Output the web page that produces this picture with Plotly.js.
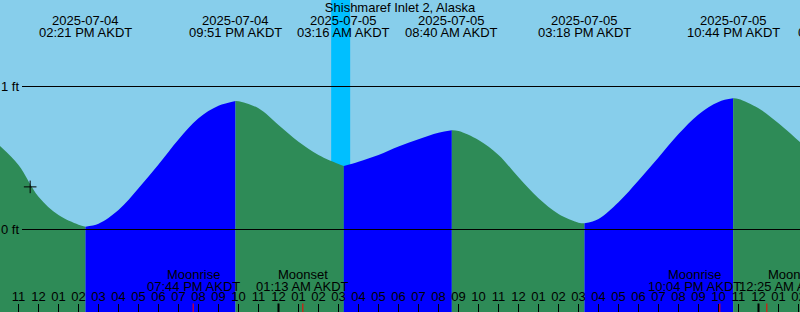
<!DOCTYPE html>
<html>
<head>
<meta charset="utf-8">
<script src="https://cdn.plot.ly/plotly-3.0.1.min.js"></script>
<style>html,body{margin:0;padding:0;background:#87CEEB;}#chart{width:800px;height:312px;}</style>
</head>
<body>
<div id="chart"></div>
<script>
// ---- data ----
const stationTitle = 'Shishmaref Inlet 2, Alaska';

const sampleTimes = [
  '2025-07-04 10:04:30', '2025-07-04 11:00', '2025-07-04 12:00', '2025-07-04 13:00',
  '2025-07-04 14:00', '2025-07-04 15:00', '2025-07-04 16:00', '2025-07-04 17:00',
  '2025-07-04 18:00', '2025-07-04 19:00', '2025-07-04 20:00', '2025-07-04 21:00',
  '2025-07-04 22:00', '2025-07-04 23:00', '2025-07-05 00:00', '2025-07-05 01:00',
  '2025-07-05 02:00', '2025-07-05 03:00', '2025-07-05 04:00', '2025-07-05 05:00',
  '2025-07-05 06:00', '2025-07-05 07:00', '2025-07-05 08:00', '2025-07-05 09:00',
  '2025-07-05 10:00', '2025-07-05 11:00', '2025-07-05 12:00', '2025-07-05 13:00',
  '2025-07-05 14:00', '2025-07-05 15:00', '2025-07-05 16:00', '2025-07-05 17:00',
  '2025-07-05 18:00', '2025-07-05 19:00', '2025-07-05 20:00', '2025-07-05 21:00',
  '2025-07-05 22:00', '2025-07-05 23:00', '2025-07-06 00:00', '2025-07-06 01:00',
  '2025-07-06 02:00', '2025-07-06 02:04:30'
];
const sampleHeights = [
  0.584, 0.451, 0.229, 0.101,
  0.034, 0.040, 0.136, 0.288,
  0.455, 0.630, 0.778, 0.865,
  0.897, 0.848, 0.731, 0.614,
  0.521, 0.458, 0.474, 0.521,
  0.580, 0.631, 0.677, 0.689,
  0.626, 0.521, 0.365, 0.218,
  0.108, 0.048, 0.073, 0.190,
  0.342, 0.503, 0.667, 0.805,
  0.892, 0.913, 0.848, 0.743,
  0.621, 0.612
];

const extremeTimes   = ['2025-07-04 14:21', '2025-07-04 21:51', '2025-07-05 03:16', '2025-07-05 08:40', '2025-07-05 15:18', '2025-07-05 22:44'];
const extremeHeights = [0.020, 0.899, 0.444, 0.694, 0.043, 0.917];
const extremeDates   = ['2025-07-04', '2025-07-04', '2025-07-05', '2025-07-05', '2025-07-05', '2025-07-05'];
const extremeClock   = ['02:21 PM AKDT', '09:51 PM AKDT', '03:16 AM AKDT', '08:40 AM AKDT', '03:18 PM AKDT', '10:44 PM AKDT'];
const nextEventClock = '04:10 AM AKDT';

const moonTimes  = ['2025-07-04 19:44', '2025-07-05 01:13', '2025-07-05 22:04', '2025-07-06 00:25'];
const moonNames  = ['Moonrise', 'Moonset', 'Moonrise', 'Moonset'];
const moonClock  = ['07:44 PM AKDT', '01:13 AM AKDT', '10:04 PM AKDT', '12:25 AM AKDT'];

const midnightTimes = ['2025-07-05 00:00', '2025-07-06 00:00'];
const nightStart = '2025-07-05 02:38';
const nightEnd   = '2025-07-05 03:35';

const nowTime = '2025-07-04 11:35';
const nowHeight = 0.298;

const levelValues = [0, 1];
const levelLabels = ['0 ft', '1 ft'];

// ---- layout constants ----
const X_RANGE = ['2025-07-04 10:04:30', '2025-07-06 02:04:30'];
const Y_RANGE = [-0.5769, 1.6049];
const FONT = '"Liberation Sans", Arial, sans-serif';
const SKY = '#87CEEB', NIGHT = '#00BFFF', FLOOD = '#0000FF', EBB = '#2E8B57';

// ---- build segments between extremes ----
const pts = sampleTimes.map((t, i) => ({t: t, h: sampleHeights[i], ext: false}))
  .concat(extremeTimes.map((t, i) => ({t: t, h: extremeHeights[i], ext: true})));
const tms = s => new Date(s.replace(' ', 'T')).getTime();
pts.sort((a, b) => tms(a.t) - tms(b.t));

const segments = [];
let cur = [];
pts.forEach(p => {
  cur.push(p);
  if (p.ext) { segments.push(cur); cur = [p]; }
});
if (cur.length > 1) segments.push(cur);

const traces = [];
segments.forEach(seg => {
  const xs = seg.map(p => p.t), ys = seg.map(p => p.h);
  const rising = ys[ys.length - 1] > ys[0];
  traces.push({
    type: 'scatter', mode: 'lines', x: [xs[0], xs[xs.length - 1]], y: [Y_RANGE[0], Y_RANGE[0]],
    line: {width: 0}, hoverinfo: 'skip', showlegend: false
  });
  traces.push({
    type: 'scatter', mode: 'lines', x: xs, y: ys, fill: 'tonexty',
    fillcolor: rising ? FLOOD : EBB,
    line: {width: 0, shape: 'spline', smoothing: 1}, hoverinfo: 'skip', showlegend: false
  });
});

traces.push({
  type: 'scatter', mode: 'markers', x: [nowTime], y: [nowHeight],
  marker: {symbol: 'cross-thin-open', size: 9, color: '#000', line: {width: 1, color: '#000'}},
  hoverinfo: 'skip', showlegend: false
});

// ---- shapes ----
const shapes = [];
shapes.push({type: 'rect', layer: 'below', xref: 'x', yref: 'paper', x0: nightStart, x1: nightEnd, y0: 0, y1: 1,
  fillcolor: NIGHT, line: {width: 0}});
levelValues.forEach(v => shapes.push({type: 'line', layer: 'above', xref: 'paper', yref: 'y',
  x0: 22 / 800, x1: 1, y0: v, y1: v, line: {color: '#000', width: 1}}));
midnightTimes.forEach(t => shapes.push({type: 'line', layer: 'above', xref: 'x', yref: 'paper',
  x0: t, x1: t, y0: 0, y1: 8.5 / 312, line: {color: '#000', width: 2}}));
moonTimes.forEach(t => shapes.push({type: 'line', layer: 'above', xref: 'x', yref: 'paper',
  x0: t, x1: t, y0: 0, y1: 8.5 / 312, line: {color: '#FF0000', width: 1}}));

// ---- annotations ----
const ann = [];
const txt = (x, y, text, extra) => Object.assign({xref: 'x', yref: 'paper', x: x, y: y, text: text,
  showarrow: false, xanchor: 'center', yanchor: 'middle', font: {family: FONT, size: 13, color: '#000'}}, extra || {});
extremeTimes.forEach((t, i) => {
  ann.push(txt(t, 1 - 21 / 312, extremeDates[i]));
  ann.push(txt(t, 1 - 33 / 312, extremeClock[i]));
});
ann.push(txt(X_RANGE[1], 1 - 33 / 312, nextEventClock, {xanchor: 'left', xshift: -4}));

const moonShift = [[0, 0, 'center'], [0, 0, 'center'], [-25.5, -25.5, 'center'], [-1, -30, 'left']];
moonTimes.forEach((t, i) => {
  const s = moonShift[i];
  ann.push(txt(t, 1 - 274.5 / 312, moonNames[i], {xshift: s[0], xanchor: s[2]}));
  ann.push(txt(t, 1 - 286 / 312, moonClock[i], {xshift: s[1], xanchor: s[2]}));
});

const layout = {
  width: 800, height: 312,
  margin: {l: 0, r: 0, t: 0, b: 0, pad: 0},
  paper_bgcolor: SKY, plot_bgcolor: SKY,
  showlegend: false, hovermode: false,
  font: {family: FONT, size: 13, color: '#000'},
  title: {text: stationTitle, x: 0.5, xanchor: 'center', y: 1 - 7.5 / 312, yanchor: 'middle', yref: 'container',
    font: {family: FONT, size: 13, color: '#000'}},
  xaxis: {
    type: 'date', range: X_RANGE, side: 'top', anchor: 'free', position: 0,
    tick0: '2025-07-04 00:00', dtick: 3600000, tickformat: '%I',
    ticks: 'outside', ticklen: 8, tickwidth: 1, tickcolor: '#000',
    ticklabelstandoff: -2, ticklabeloverflow: 'allow',
    tickfont: {family: FONT, size: 13, color: '#000'},
    showgrid: false, zeroline: false, showline: false, automargin: false, fixedrange: true
  },
  yaxis: {
    range: Y_RANGE, tickvals: levelValues, ticktext: levelLabels, ticks: '',
    side: 'right', anchor: 'free', position: 0, ticklabeloverflow: 'allow',
    tickfont: {family: FONT, size: 13, color: '#000'},
    showgrid: false, zeroline: false, showline: false, automargin: false, fixedrange: true
  },
  shapes: shapes,
  annotations: ann
};

Plotly.newPlot('chart', traces, layout, {displayModeBar: false, staticPlot: true});
</script>
</body>
</html>
